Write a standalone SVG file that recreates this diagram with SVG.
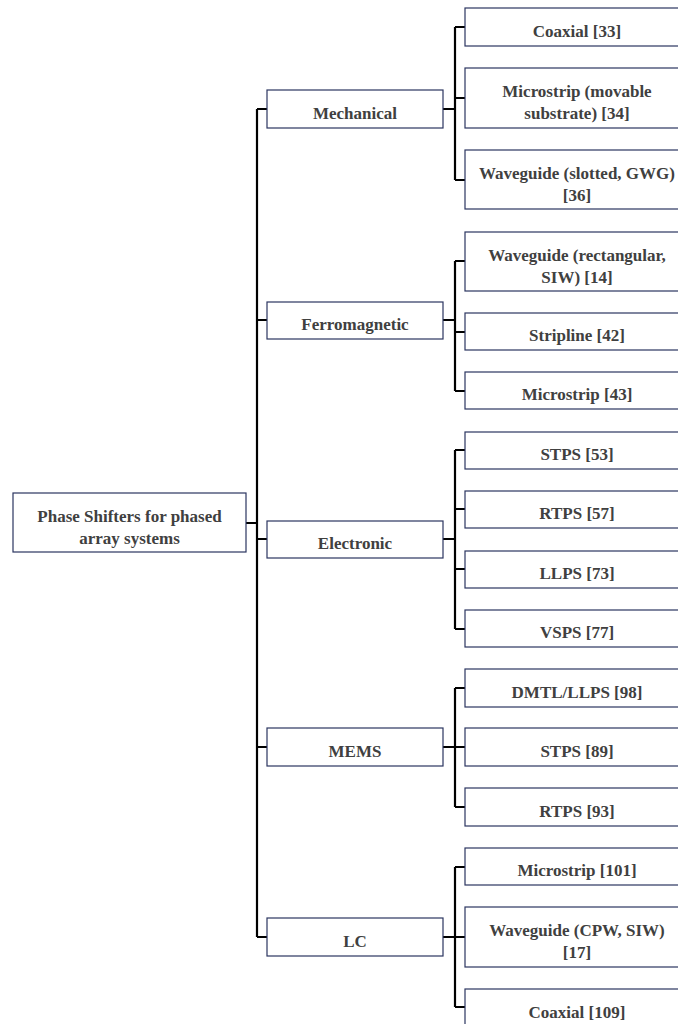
<svg xmlns="http://www.w3.org/2000/svg" width="678" height="1024" viewBox="0 0 678 1024">
<style>
.box{fill:#fff;stroke:#2b3560;stroke-width:1.2}
.t{font-family:'Liberation Serif','Times New Roman',Tinos,'DejaVu Serif',serif;font-weight:bold;font-size:17px;fill:#404040;text-anchor:middle}
.c{fill:none;stroke:#000;stroke-width:2.2}
</style>
<rect width="678" height="1024" fill="#fff"/>
<g id="connectors">
<path class="c" d="M246 523H257M257 109V937"/>
<path class="c" d="M257 109H267M257 320H267M257 539H267M257 747H267M257 937H267"/>
<path class="c" d="M443 109H455M455 27V180M455 27H465M455 98H465M455 180H465"/>
<path class="c" d="M443 320H455M455 261V391M455 261H465M455 332H465M455 391H465"/>
<path class="c" d="M443 539H455M455 450V629M455 450H465M455 509H465M455 569H465M455 629H465"/>
<path class="c" d="M443 747H455M455 688V807M455 688H465M455 747H465M455 807H465"/>
<path class="c" d="M443 937H455M455 867V1007M455 867H465M455 937H465M455 1007H465"/>
</g>
<g id="root"><rect class="box" x="13" y="493" width="233" height="59"/><text class="t" x="129.5" y="521.5">Phase Shifters for phased</text><text class="t" x="129.5" y="543.5">array systems</text></g>
<g id="mechanical"><rect class="box" x="267" y="90" width="176" height="38"/><text class="t" x="355" y="119">Mechanical</text></g>
<g id="ferromagnetic"><rect class="box" x="267" y="302" width="176" height="37"/><text class="t" x="355" y="330">Ferromagnetic</text></g>
<g id="electronic"><rect class="box" x="267" y="521" width="176" height="37"/><text class="t" x="355" y="549">Electronic</text></g>
<g id="mems"><rect class="box" x="267" y="728" width="176" height="38"/><text class="t" x="355" y="757">MEMS</text></g>
<g id="lc"><rect class="box" x="267" y="918" width="176" height="38"/><text class="t" x="355" y="947">LC</text></g>
<g id="coaxial33"><rect class="box" x="465" y="8" width="226" height="38"/><text class="t" x="577" y="37">Coaxial [33]</text></g>
<g id="microstrip34"><rect class="box" x="465" y="68" width="226" height="60"/><text class="t" x="577" y="97">Microstrip (movable</text><text class="t" x="577" y="119">substrate) [34]</text></g>
<g id="waveguide36"><rect class="box" x="465" y="150" width="226" height="59"/><text class="t" x="577" y="179">Waveguide (slotted, GWG)</text><text class="t" x="577" y="201">[36]</text></g>
<g id="waveguide14"><rect class="box" x="465" y="232" width="226" height="59"/><text class="t" x="577" y="261">Waveguide (rectangular,</text><text class="t" x="577" y="283">SIW) [14]</text></g>
<g id="stripline42"><rect class="box" x="465" y="313" width="226" height="37"/><text class="t" x="577" y="341">Stripline [42]</text></g>
<g id="microstrip43"><rect class="box" x="465" y="372" width="226" height="37"/><text class="t" x="577" y="400">Microstrip [43]</text></g>
<g id="stps53"><rect class="box" x="465" y="432" width="226" height="37"/><text class="t" x="577" y="460">STPS [53]</text></g>
<g id="rtps57"><rect class="box" x="465" y="491" width="226" height="37"/><text class="t" x="577" y="519">RTPS [57]</text></g>
<g id="llps73"><rect class="box" x="465" y="551" width="226" height="37"/><text class="t" x="577" y="579">LLPS [73]</text></g>
<g id="vsps77"><rect class="box" x="465" y="610" width="226" height="37"/><text class="t" x="577" y="638">VSPS [77]</text></g>
<g id="dmtl98"><rect class="box" x="465" y="669" width="226" height="38"/><text class="t" x="577" y="698">DMTL/LLPS [98]</text></g>
<g id="stps89"><rect class="box" x="465" y="728" width="226" height="38"/><text class="t" x="577" y="757">STPS [89]</text></g>
<g id="rtps93"><rect class="box" x="465" y="788" width="226" height="38"/><text class="t" x="577" y="817">RTPS [93]</text></g>
<g id="microstrip101"><rect class="box" x="465" y="848" width="226" height="37"/><text class="t" x="577" y="876">Microstrip [101]</text></g>
<g id="waveguide17"><rect class="box" x="465" y="907" width="226" height="60"/><text class="t" x="577" y="936">Waveguide (CPW, SIW)</text><text class="t" x="577" y="958">[17]</text></g>
<g id="coaxial109"><rect class="box" x="465" y="989" width="226" height="38"/><text class="t" x="577" y="1018">Coaxial [109]</text></g>
</svg>
